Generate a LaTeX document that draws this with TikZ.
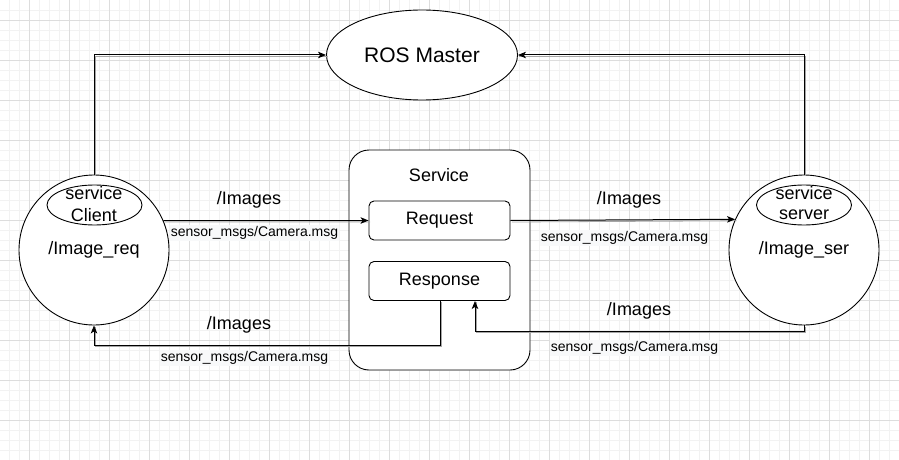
\documentclass[tikz,border=0pt]{standalone}
\usepackage{fontspec}
\setmainfont{Liberation Sans}
\usetikzlibrary{shapes.geometric,arrows.meta}
\definecolor{gridmin}{HTML}{F2F2F2}
\definecolor{gridmaj}{HTML}{DDDDDD}
\definecolor{lblbg}{HTML}{F8F9FA}
\tikzset{
  shp/.style={draw=black, line width=0.9pt, fill=white, inner sep=0pt, font=\fontsize{18}{22}\selectfont},
  circ/.style={shp, circle, minimum size=150pt},
  inell/.style={shp, ellipse, minimum width=95pt, minimum height=40pt, fill=none},
  box/.style={shp, rectangle, rounded corners=5pt, minimum width=141pt, minimum height=39pt},
  edge/.style={line width=1pt, -{Stealth[length=8pt,width=6.5pt,inset=2pt]},
     preaction={draw=black!35, line width=0.8pt, -, transform canvas={shift={(1.5pt,-1.5pt)}}}},
  big/.style={font=\fontsize{18}{22}\selectfont, inner sep=0pt},
  msg/.style={font=\fontsize{14}{16}\selectfont, fill=lblbg, inner sep=1pt},
}
\begin{document}
\begin{tikzpicture}[x=1pt,y=-1pt]
\useasboundingbox (0,0) rectangle (899,460);
\fill[white] (0,0) rectangle (899,460);
% grid
\foreach \x in {9.3,19.3,...,899} \draw[gridmin, line width=0.8pt] (\x,0) -- (\x,460);
\foreach \y in {10,20,...,460} \draw[gridmin, line width=0.8pt] (0,\y) -- (899,\y);
\foreach \x in {29.3,69.3,...,899} \draw[gridmaj, line width=0.8pt] (\x,0) -- (\x,460);
\foreach \y in {20,60,...,460} \draw[gridmaj, line width=0.8pt] (0,\y) -- (899,\y);

% nodes
\node[shp, ellipse, minimum width=191pt, minimum height=90pt, font=\fontsize{21}{24}\selectfont] (master) at (422,55) {ROS Master};
\node[circ] (client) at (94,250) {};
\node[circ] (server) at (804,250) {};
\node[inell] (cliell) at (94.5,205) {};
\node[inell] (serell) at (804,205) {};
\node[big] (clitxt1) at (94,193) {service};
\node[big] (clitxt2) at (94,215) {Client};
\node[big] (sertxt1) at (804,193) {service};
\node[big] (sertxt2) at (804,215) {server};
\node[big] (cliname) at (94,250) {/Image\_req};
\node[big] (sername) at (804,250) {/Image\_ser};

\node[shp, rectangle, rounded corners=20pt, minimum width=181pt, minimum height=220pt] (svc) at (439.5,260) {};
\node[big] (svclbl) at (439,175) {Service};
\node[box] (req) at (439.5,220.5) {Request};
\node[box] (resp) at (439.5,281) {Response};

% coordinates
\coordinate (b1) at (440,345);
\coordinate (b2) at (475,331);

% connectors
\draw[edge] (client.north) |- (master.west);
\draw[edge] (server.north) |- (master.east);
\draw[edge] (client.23.58) -- (req.west);
\draw[edge] (req.east) -- (server.156.42);
\draw[edge] (resp.south -| b1) -- (b1) -| (client.south);
\draw[edge] (server.south) |- (b2) -- (b2 |- resp.south);

% labels
\node[big] (l1) at (249,200) {/Images};
\node[msg] (m1) at (254.5,233) {sensor\_msgs/Camera.msg};
\node[big] (l2) at (629,200) {/Images};
\node[msg] (m2) at (624.5,238) {sensor\_msgs/Camera.msg};
\node[big] (l3) at (239,325) {/Images};
\node[msg] (m3) at (244.5,358) {sensor\_msgs/Camera.msg};
\node[big] (l4) at (639,311) {/Images};
\node[msg] (m4) at (634.5,348) {sensor\_msgs/Camera.msg};
\end{tikzpicture}
\end{document}
